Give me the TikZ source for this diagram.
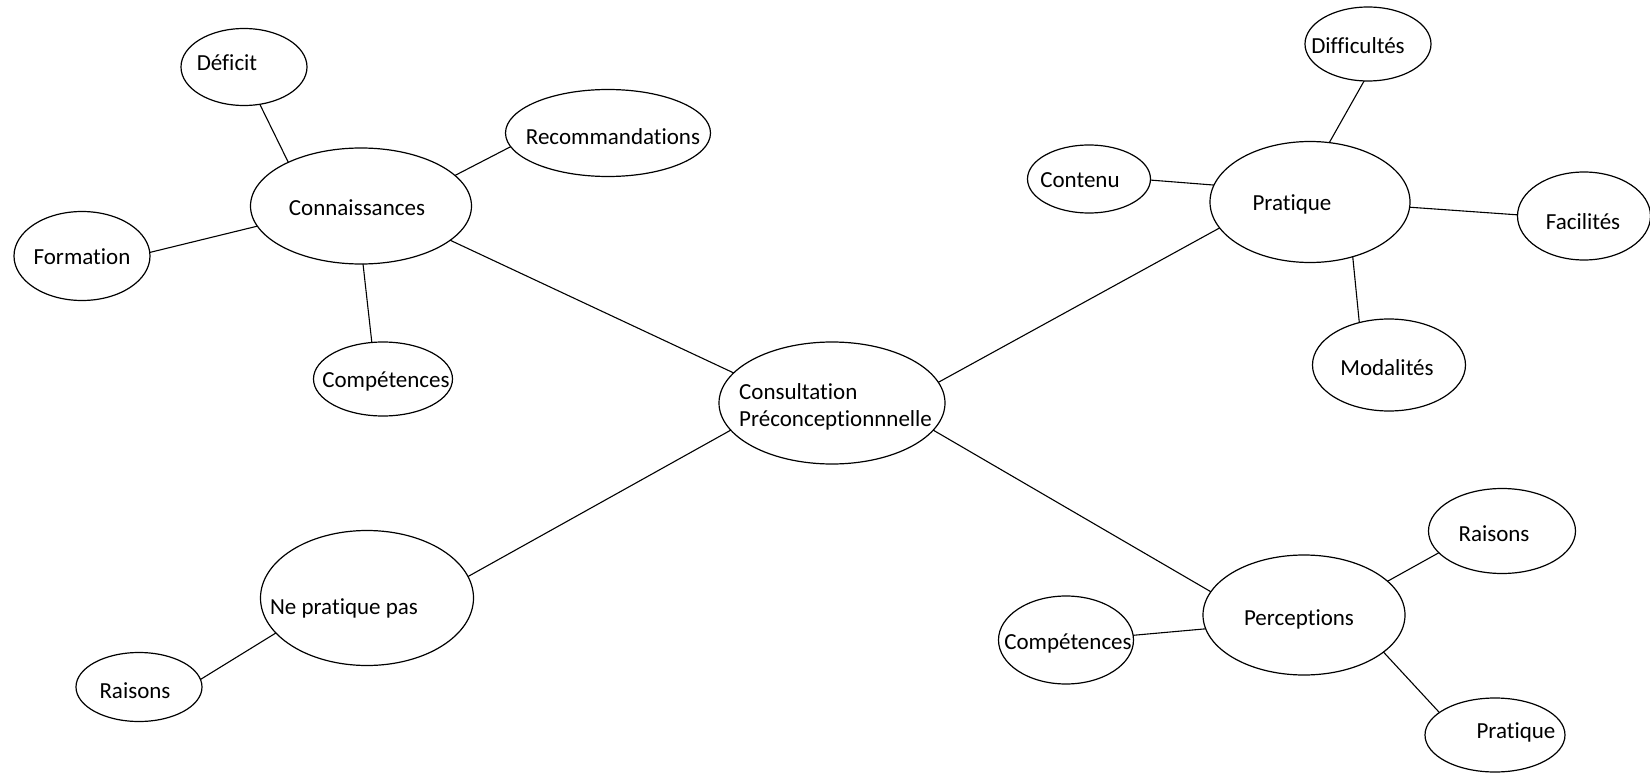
\documentclass[tikz,border=0pt]{standalone}
\usepackage{fontspec}
\setmainfont{Carlito}[Ligatures=NoCommon]
\usetikzlibrary{shapes.geometric}
\tikzset{
  bub/.style={draw=black, line width=1.2pt, ellipse, inner sep=0pt, outer sep=0pt},
  lab/.style={font=\fontsize{23}{27}\selectfont, inner sep=0pt, text height=0.7em, text depth=0.2em, yshift=-5pt},
  link/.style={draw=black, line width=1.1pt}
}
\begin{document}
\begin{tikzpicture}[x=1pt, y=-1pt]
\useasboundingbox (0,0) rectangle (1650,773);
% ellipses
\node[bub, minimum width=126pt, minimum height=77pt]  (def)  at (244,67)  {};
\node[bub, minimum width=205pt, minimum height=87pt]  (rec)  at (608,133) {};
\node[bub, minimum width=221pt, minimum height=116pt] (con)  at (361,206) {};
\node[bub, minimum width=136pt, minimum height=89pt]  (for)  at (82,256)  {};
\node[bub, minimum width=139pt, minimum height=74pt]  (cpl)  at (383,379) {};
\node[bub, minimum width=226pt, minimum height=122pt] (cen)  at (832,403) {};
\node[bub, minimum width=126pt, minimum height=74pt]  (dif)  at (1368,44) {};
\node[bub, minimum width=123pt, minimum height=68pt]  (ctn)  at (1089,179) {};
\node[bub, minimum width=200pt, minimum height=121pt] (prt)  at (1310,202) {};
\node[bub, minimum width=133pt, minimum height=88pt]  (fac)  at (1584,216) {};
\node[bub, minimum width=153pt, minimum height=92pt]  (mod)  at (1389,365) {};
\node[bub, minimum width=213pt, minimum height=135pt] (npp)  at (367,598) {};
\node[bub, minimum width=126pt, minimum height=69pt]  (rsl)  at (139,687) {};
\node[bub, minimum width=202pt, minimum height=120pt] (per)  at (1304,615) {};
\node[bub, minimum width=147pt, minimum height=85pt]  (rsr)  at (1502,531) {};
\node[bub, minimum width=135pt, minimum height=88pt]  (cpr)  at (1066,640) {};
\node[bub, minimum width=140pt, minimum height=74pt]  (prr)  at (1495,735) {};
% texts
\node[lab] (def-t) at (227,63)  {Déficit};
\node[lab] (rec-t) at (613,137) {Recommandations};
\node[lab] (con-t) at (357,208) {Connaissances};
\node[lab] (for-t) at (82,257)  {Formation};
\node[lab] (cpl-t) at (386,380) {Compétences};
\node[font=\fontsize{23}{27.5}\selectfont, inner sep=0pt, align=left, anchor=west] (cen-t) at (739,407) {Consultation\\Préconceptionnnelle};
\node[lab] (dif-t) at (1358,46)  {Difficultés};
\node[lab] (ctn-t) at (1080,180) {Contenu};
\node[lab] (prt-t) at (1292,203) {Pratique};
\node[lab] (fac-t) at (1583,222) {Facilités};
\node[lab] (mod-t) at (1387,368) {Modalités};
\node[lab] (npp-t) at (344,607)  {Ne pratique pas};
\node[lab] (rsl-t) at (135,691)  {Raisons};
\node[lab] (per-t) at (1299,618) {Perceptions};
\node[lab] (rsr-t) at (1494,534) {Raisons};
\node[lab] (cpr-t) at (1068,642) {Compétences};
\node[lab] (prr-t) at (1516,731) {Pratique};
% connectors
\draw[link] (def.-67.4) -- (con.149.8);
\draw[link] (rec.-172.7) -- (con.18);
\draw[link] (for.3.5) -- (con.191.3);
\draw[link] (con.-88) -- (cpl.107.4);
\draw[link] (con.-21.3) -- (cen.163.7);
\draw[link] (cen.11.7) -- (prt.196.4);
\draw[link] (cen.195.3) -- (npp.12.9);
\draw[link] (cen.-15.2) -- (per.166.4);
\draw[link] (dif.-96.3) -- (prt.72.2);
\draw[link] (ctn.-1) -- (prt.170.1);
\draw[link] (prt.-3.7) -- (fac.179);
\draw[link] (prt.-52.3) -- (mod.125.9);
\draw[link] (npp.201.5) -- (rsl.7.1);
\draw[link] (per.22.8) -- (rsr.199.5);
\draw[link] (per.188.7) -- (cpr.4.6);
\draw[link] (per.-25.9) -- (prr.158.6);
\end{tikzpicture}
\end{document}
